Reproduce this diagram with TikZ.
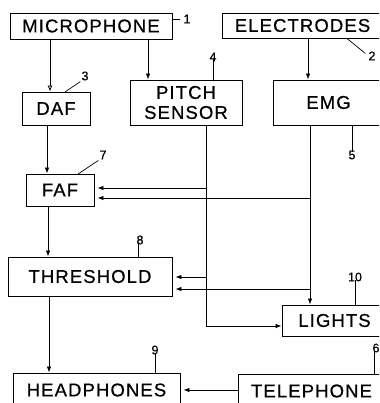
\documentclass[tikz,border=0pt]{standalone}
\usepackage{fontspec}
\setmainfont{Liberation Sans}
\newfontfamily\boxfont[LetterSpace=6,FakeBold=0.6]{Liberation Sans}
\newfontfamily\numfont[FakeBold=0.6]{Liberation Sans}
\usetikzlibrary{arrows.meta}
\begin{document}
\begin{tikzpicture}[x=1pt,y=-1pt,
  blk/.style={draw=black,line width=0.9pt,rectangle,inner sep=0pt,align=center,
    font=\boxfont\fontsize{18.5}{20}\selectfont},
  num/.style={inner sep=0pt,font=\numfont\fontsize{12.5}{12}\selectfont},
  conn/.style={line width=0.8pt},
  arr/.style={conn,-{Latex[length=6pt,width=4.5pt]}},
  lead/.style={line width=0.7pt}]
\clip (0,0) rectangle (379,403);
% boxes
\node[blk,minimum width=162,minimum height=26] (mic) at (91,26) {MICROPHONE};
\node[blk,minimum width=161,minimum height=25] (elec) at (302.5,25.5) {ELECTRODES};
\node[blk,minimum width=68,minimum height=33] (daf) at (56,108.5) {DAF};
\node[blk,minimum width=112,minimum height=45] (pitch) at (186,102.5) {PITCH\\SENSOR};
\node[blk,minimum width=111,minimum height=45] (emg) at (328.5,102.5) {EMG};
\node[blk,minimum width=68,minimum height=32] (faf) at (60,190) {FAF};
\node[blk,minimum width=164,minimum height=39] (thr) at (90,276.5) {THRESHOLD};
\node[blk,minimum width=105,minimum height=31] (lights) at (334.5,320.5) {LIGHTS};
\node[blk,minimum width=167,minimum height=34] (head) at (96.5,390) {HEADPHONES};
\node[blk,minimum width=147,minimum height=34] (tel) at (311.5,391) {TELEPHONE};
% column / row helpers
\coordinate (cA) at (50,0);
\coordinate (cB) at (148,0);
\coordinate (cC) at (308,0);
\coordinate (cD) at (47,0);
\coordinate (cE) at (48,0);
\coordinate (cF) at (49,0);
\coordinate (ps) at (206,0);
\coordinate (em) at (310,0);
\coordinate (r1) at (0,188);
\coordinate (r2) at (0,198);
\coordinate (r3) at (0,277);
\coordinate (r4) at (0,289);
\coordinate (r5) at (0,326);
\coordinate (r6) at (0,390);
% connectors
\draw[conn,-{Latex[open,length=6pt,width=5pt]}] (mic.south -| cA) -- (daf.north -| cA);
\draw[arr] (mic.south -| cB) -- (pitch.north -| cB);
\draw[arr] (elec.south -| cC) -- (emg.north -| cC);
\draw[arr] (daf.south -| cD) -- (faf.north -| cD);
\draw[arr] (faf.south -| cE) -- (thr.north -| cE);
\draw[arr] (thr.south -| cF) -- (head.north -| cF);
\draw[arr] (pitch.south -| ps) -- (ps |- r5) -- (lights.west |- r5);
\draw[arr] (ps |- r1) -- ([xshift=3pt]faf.east |- r1);
\draw[arr] (ps |- r3) -- ([xshift=3pt]thr.east |- r3);
\draw[arr] (emg.south -| em) -- (lights.north -| em);
\draw[arr] (em |- r2) -- ([xshift=3pt]faf.east |- r2);
\draw[arr] (em |- r4) -- ([xshift=3pt]thr.east |- r4);
\draw[arr] (tel.west |- r6) -- ([xshift=3pt]head.east |- r6);
% reference numerals
\node[num] (n1) at (187,19) {1};
\draw[lead] (mic.east |- n1) -- ([xshift=-3pt]n1.west);
\node[num] (n2) at (372,56) {2};
\coordinate (l2) at (347,38.5);
\draw[lead] (l2) -- ([shift={(-3pt,-2pt)}]n2.north west);
\node[num] (n3) at (85,76) {3};
\coordinate (l3) at (65,92);
\draw[lead] (l3) -- ([shift={(-1pt,-1pt)}]n3.south west);
\node[num] (n4) at (213,57) {4};
\draw[lead] ([yshift=2pt]n4.south) -- (pitch.north -| n4);
\node[num] (n5) at (352,155) {5};
\draw[lead] (emg.south -| n5) -- ([yshift=-2pt]n5.north);
\node[num] (n6) at (376,348) {6};
\coordinate (l6) at (374,0);
\draw[lead] ([yshift=3pt]n6.south -| l6) -- (tel.north -| l6);
\node[num] (n7) at (103,155) {7};
\coordinate (l7) at (78,174);
\draw[lead] (l7) -- ([shift={(-1pt,-1pt)}]n7.south west);
\node[num] (n8) at (140,240) {8};
\coordinate (l8) at (138,0);
\draw[lead] ([yshift=2pt]n8.south -| l8) -- (thr.north -| l8);
\node[num] (n9) at (155,350) {9};
\draw[lead] ([yshift=2pt]n9.south) -- (head.north -| n9);
\node[num] (n10) at (355,277) {10};
\draw[lead] ([yshift=2pt]n10.south) -- (lights.north -| n10);
\end{tikzpicture}
\end{document}
